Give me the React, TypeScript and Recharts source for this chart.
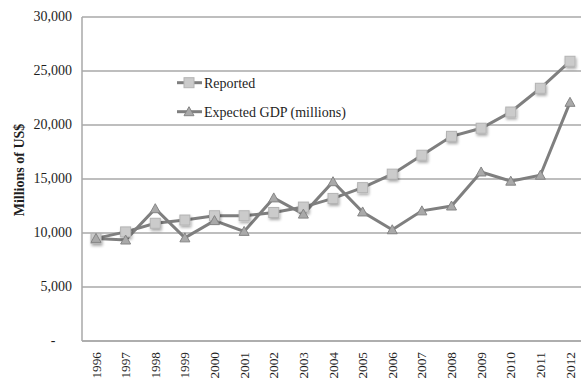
import React from 'react';
import { LineChart, Line, XAxis, YAxis, CartesianGrid, Label } from 'recharts';

// Years on the category axis
const years = ['1996', '1997', '1998', '1999', '2000', '2001', '2002', '2003', '2004', '2005', '2006', '2007', '2008', '2009', '2010', '2011', '2012'];

// Reported output, millions of US$
const reported = [9500, 10100, 10900, 11200, 11600, 11600, 11900, 12400, 13200, 14200, 15450, 17200, 18950, 19700, 21200, 23400, 25900];

// Expected GDP, millions of US$
const expected = [9500, 9350, 12250, 9550, 11150, 10150, 13250, 11750, 14750, 11950, 10300, 12050, 12500, 15650, 14800, 15350, 22100];

const yTicks = [0, 5000, 10000, 15000, 20000, 25000, 30000];

const seriesNames = { reported: 'Reported', expected: 'Expected GDP (millions)' };

const data = years.map((year, i) => ({ year, reported: reported[i], expected: expected[i] }));

const FONT = '"Liberation Serif", "Times New Roman", serif';
const LINE = '#7f7f7f';
const GRID = '#a8a8a8';
const TEXT = '#1e1e1e';

const fmt = (v: number) => v.toLocaleString('en-US');

const YTick = (props: any) => {
  const { y, payload } = props;
  const v = payload.value as number;
  if (v === 0) {
    return (
      <text x={53} y={y} dy={4} textAnchor="middle" fontFamily={FONT} fontSize={14} fill={TEXT}>
        -
      </text>
    );
  }
  return (
    <text x={72} y={y} dy={4} textAnchor="end" fontFamily={FONT} fontSize={14} fill={TEXT}>
      {fmt(v)}
    </text>
  );
};

const XTick = (props: any) => {
  const { x, y, payload } = props;
  const ty = y + 3;
  return (
    <text
      x={x}
      y={ty}
      transform={`rotate(-90, ${x}, ${ty})`}
      textAnchor="end"
      dominantBaseline="central"
      fontFamily={FONT}
      fontSize={13.3}
      fill={TEXT}
    >
      {payload.value}
    </text>
  );
};

const SquareDot = (props: any) => {
  const { cx, cy, index } = props;
  if (cx == null || cy == null) return null;
  return (
    <rect
      key={`sq-${index}`}
      x={cx - 5}
      y={cy - 5}
      width={10}
      height={10}
      fill="#cbcbcb"
      stroke="#b4b4b4"
      strokeWidth={1}
      filter="url(#dotShadow)"
    />
  );
};

const TriangleDot = (props: any) => {
  const { cx, cy, index } = props;
  if (cx == null || cy == null) return null;
  return (
    <polygon
      key={`tr-${index}`}
      points={`${cx},${cy - 5} ${cx + 5},${cy + 4} ${cx - 5},${cy + 4}`}
      fill="#a9a9a9"
      stroke="#858585"
      strokeWidth={1}
    />
  );
};

const LegendOverlay = () => (
  <svg
    width={200}
    height={50}
    style={{ position: 'absolute', left: 170, top: 70, overflow: 'visible' }}
  >
    <g>
      <line x1={7} y1={12.7} x2={32} y2={12.7} stroke={LINE} strokeWidth={3} />
      <rect x={14} y={7.7} width={10} height={10} fill="#cbcbcb" stroke="#b4b4b4" />
      <text x={34} y={17.5} fontFamily={FONT} fontSize={14} fill={TEXT}>
        {seriesNames.reported}
      </text>
    </g>
    <g>
      <line x1={7} y1={41.7} x2={32} y2={41.7} stroke={LINE} strokeWidth={3} />
      <polygon points="19,36.7 24,45.7 14,45.7" fill="#a9a9a9" stroke="#858585" />
      <text x={34} y={46.5} fontFamily={FONT} fontSize={14} fill={TEXT}>
        {seriesNames.expected}
      </text>
    </g>
  </svg>
);

export default function App() {
  return (
    <div
      style={{
        position: 'absolute',
        left: 0,
        top: 0,
        width: 581,
        height: 378,
        overflow: 'hidden',
        background: '#ffffff',
      }}
    >
      <LineChart width={600} height={378} data={data} margin={{ top: 17, right: 16, bottom: 0, left: 0 }}>
        <defs>
          <filter id="dotShadow" x="-50%" y="-50%" width="220%" height="220%">
            <feGaussianBlur in="SourceAlpha" stdDeviation="1.5" />
            <feOffset dx="1" dy="2" result="blur" />
            <feComponentTransfer>
              <feFuncA type="linear" slope="0.35" />
            </feComponentTransfer>
            <feMerge>
              <feMergeNode />
              <feMergeNode in="SourceGraphic" />
            </feMerge>
          </filter>
        </defs>
        <CartesianGrid vertical={false} stroke={GRID} strokeWidth={1.5} />
        <XAxis
          dataKey="year"
          height={37}
          padding={{ left: 14, right: 14 }}
          tickLine={false}
          axisLine={{ stroke: GRID, strokeWidth: 1.5 }}
          tick={<XTick />}
          interval={0}
        />
        <YAxis
          width={82}
          domain={[0, 30000]}
          ticks={yTicks}
          tickLine={false}
          axisLine={{ stroke: GRID, strokeWidth: 1.5 }}
          tick={<YTick />}
          interval={0}
        >
          <Label
            content={() => (
              <text
                x={19}
                y={170}
                transform="rotate(-90, 19, 170)"
                textAnchor="middle"
                dominantBaseline="central"
                fontFamily={FONT}
                fontSize={14}
                fontWeight="bold"
                fill={TEXT}
              >
                Millions of US$
              </text>
            )}
          />
        </YAxis>
        <Line
          type="linear"
          dataKey="reported"
          name={seriesNames.reported}
          stroke={LINE}
          strokeWidth={3}
          dot={<SquareDot />}
          activeDot={false}
          isAnimationActive={false}
        />
        <Line
          type="linear"
          dataKey="expected"
          name={seriesNames.expected}
          stroke={LINE}
          strokeWidth={3}
          dot={<TriangleDot />}
          activeDot={false}
          isAnimationActive={false}
        />
      </LineChart>
      <LegendOverlay />
    </div>
  );
}
